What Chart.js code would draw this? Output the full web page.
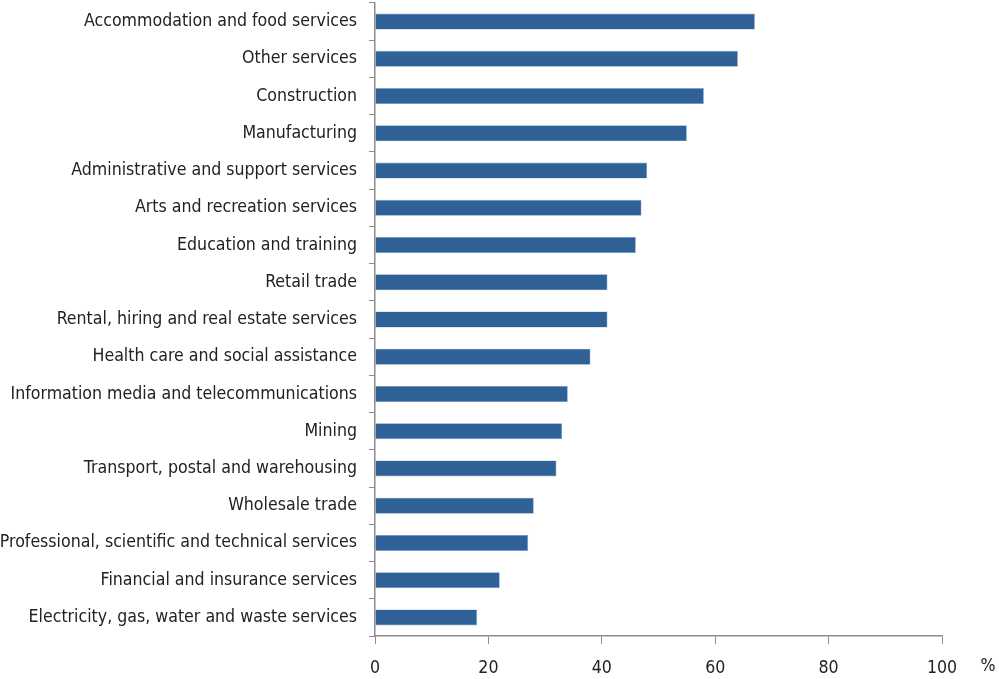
<!DOCTYPE html>
<html>
<head>
<meta charset="utf-8">
<script src="https://cdn.jsdelivr.net/npm/chart.js@4.4.1/dist/chart.umd.min.js"></script>
<style>
  html, body { margin: 0; padding: 0; background: #fff; }
  #wrap { width: 999px; height: 679px; }
</style>
</head>
<body>
<div id="wrap"><canvas id="chart" width="999" height="679"></canvas></div>
<script>
// industries, top to bottom
var industries = [
  'Accommodation and food services',
  'Other services',
  'Construction',
  'Manufacturing',
  'Administrative and support services',
  'Arts and recreation services',
  'Education and training',
  'Retail trade',
  'Rental, hiring and real estate services',
  'Health care and social assistance',
  'Information media and telecommunications',
  'Mining',
  'Transport, postal and warehousing',
  'Wholesale trade',
  'Professional, scientific and technical services',
  'Financial and insurance services',
  'Electricity, gas, water and waste services'
];
var percents = [67, 64, 58, 55, 48, 47, 46, 41, 41, 38, 34, 33, 32, 28, 27, 22, 18];
var xTicks = [0, 20, 40, 60, 80, 100];
var unitLabel = '%';

var labelFont = { family: "'Liberation Sans Narrow', 'DejaVu Sans Condensed', sans-serif", size: 17.6 };

// draws the "%" next to the last x tick
var unitPlugin = {
  id: 'unitLabel',
  afterDraw: function (chart) {
    var x = chart.scales.x;
    var ctx = chart.ctx;
    ctx.save();
    ctx.font = labelFont.size + 'px ' + labelFont.family;
    ctx.fillStyle = '#222';
    ctx.textAlign = 'center';
    ctx.textBaseline = 'middle';
    ctx.fillText(unitLabel, x.getPixelForValue(100) + 46, 666);
    ctx.restore();
  }
};

var ctx = document.getElementById('chart').getContext('2d');
new Chart(ctx, {
  type: 'bar',
  plugins: [unitPlugin],
  data: {
    labels: industries,
    datasets: [{
      data: percents,
      backgroundColor: '#2F6096',
      borderColor: '#7F9FC4',
      borderWidth: 0.6,
      barPercentage: 0.43,
      categoryPercentage: 1
    }]
  },
  options: {
    indexAxis: 'y',
    responsive: false,
    animation: false,
    layout: { padding: { top: 3, right: 57, left: 0, bottom: 0 } },
    plugins: {
      legend: { display: false },
      tooltip: { enabled: false }
    },
    scales: {
      x: {
        min: 0,
        max: 100,
        afterBuildTicks: function (axis) {
          axis.ticks = xTicks.map(function (v) { return { value: v }; });
        },
        afterFit: function (axis) { axis.height = 43; },
        grid: { drawOnChartArea: false, drawTicks: true, tickLength: 8, color: '#8c8c8c' },
        border: { color: '#8c8c8c', width: 1.5 },
        ticks: { color: '#222', font: labelFont, padding: 14, maxRotation: 0 }
      },
      y: {
        afterFit: function (axis) {
          axis.width = 375;
          axis.paddingTop = 0;
          axis.paddingBottom = 0;
        },
        grid: { drawOnChartArea: false, drawTicks: true, tickLength: 6, color: '#8c8c8c', offset: true },
        border: { color: '#8c8c8c', width: 1.5 },
        ticks: { color: '#222', font: labelFont, padding: 12, autoSkip: false }
      }
    }
  }
});
</script>
</body>
</html>
